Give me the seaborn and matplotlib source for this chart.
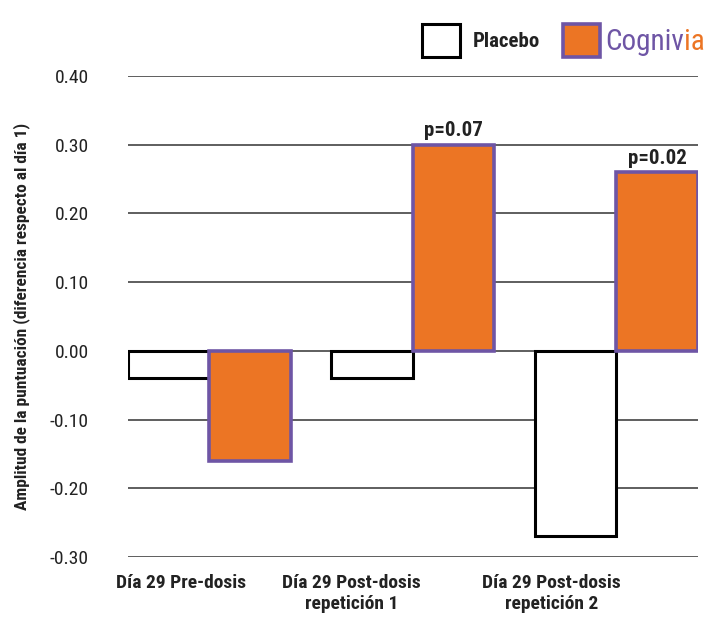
import pandas as pd
import seaborn as sns
import matplotlib.pyplot as plt
from matplotlib.patches import Rectangle

# datos
grupos = ["Día 29 Pre-dosis", "Día 29 Post-dosis\nrepetición 1", "Día 29 Post-dosis\nrepetición 2"]
tratamientos = ["Placebo", "Cognivia"]
placebo = [-0.04, -0.04, -0.27]
cognivia = [-0.16, 0.30, 0.26]
p_valores = [None, "p=0.07", "p=0.02"]
yticks = [-0.30, -0.20, -0.10, 0.00, 0.10, 0.20, 0.30, 0.40]

naranja = "#EC7524"
morado = "#6E55A5"

df = pd.DataFrame({
    "grupo": grupos * 2,
    "tratamiento": ["Placebo"] * 3 + ["Cognivia"] * 3,
    "valor": placebo + cognivia,
})

sns.set_style("white")
narrow = ["Liberation Sans Narrow", "Roboto Condensed", "DejaVu Sans"]
plt.rcParams["font.family"] = narrow

fig = plt.figure(figsize=(7.18, 6.21), dpi=100)
ax = fig.add_axes([0.178, 0.103, 0.794, 0.775])

sns.barplot(data=df, x="grupo", y="valor", hue="tratamiento", hue_order=tratamientos,
            palette=["white", naranja], saturation=1, width=0.8, legend=False, ax=ax, zorder=3)

# bordes de las barras
for bar in ax.containers[0]:
    bar.set_edgecolor("black")
    bar.set_linewidth(2.2)
for bar in ax.containers[1]:
    bar.set_edgecolor(morado)
    bar.set_linewidth(2.6)

# valores p encima de las barras de Cognivia
for bar, p in zip(ax.containers[1], p_valores):
    if p:
        ax.annotate(p, (bar.get_x() + bar.get_width() / 2, bar.get_height()),
                    xytext=(0, 3), textcoords="offset points", ha="center", va="bottom",
                    fontsize=15, fontweight="bold", color="#222222")

ax.set_ylim(-0.30, 0.40)
ax.set_xlim(-0.4, 2.4)
ax.set_yticks(yticks)
ax.set_yticklabels([f"{v:.2f}" for v in yticks], fontsize=14, color="#222222")
ax.yaxis.grid(True, color="#333333", linewidth=1.1, zorder=0)
ax.set_axisbelow(True)
ax.tick_params(axis="y", length=0, pad=28)
ax.tick_params(axis="x", length=0, pad=12)

# etiquetas del eje x (desplazadas como en el original)
ax.set_xticks([-0.14, 0.70, 1.68])
ax.set_xticklabels(grupos, fontsize=14, fontweight="bold", color="#222222", linespacing=1.25)
ax.set_xlabel("")
ax.set_ylabel("Amplitud de la puntuación (diferencia respecto al día 1)", fontsize=12.5,
              fontweight="bold", color="#222222", labelpad=14)
sns.despine(ax=ax, left=True, bottom=True, top=True, right=True)

# leyenda a mano
fig.patches.append(Rectangle((0.588, 0.908), 0.052, 0.053, transform=fig.transFigure,
                             facecolor="white", edgecolor="black", linewidth=2.2))
fig.text(0.659, 0.933, "Placebo", fontsize=15, fontweight="bold", va="center", color="#222222")
fig.patches.append(Rectangle((0.784, 0.908), 0.052, 0.053, transform=fig.transFigure,
                             facecolor=naranja, edgecolor=morado, linewidth=2.6))
t = fig.text(0.843, 0.933, "Cogniv", fontsize=21, va="center", color=morado)
fig.canvas.draw()
bb = t.get_window_extent().transformed(fig.transFigure.inverted())
fig.text(bb.x1, 0.933, "ia", fontsize=21, va="center", color=naranja)

plt.savefig("out.png", dpi=100)
